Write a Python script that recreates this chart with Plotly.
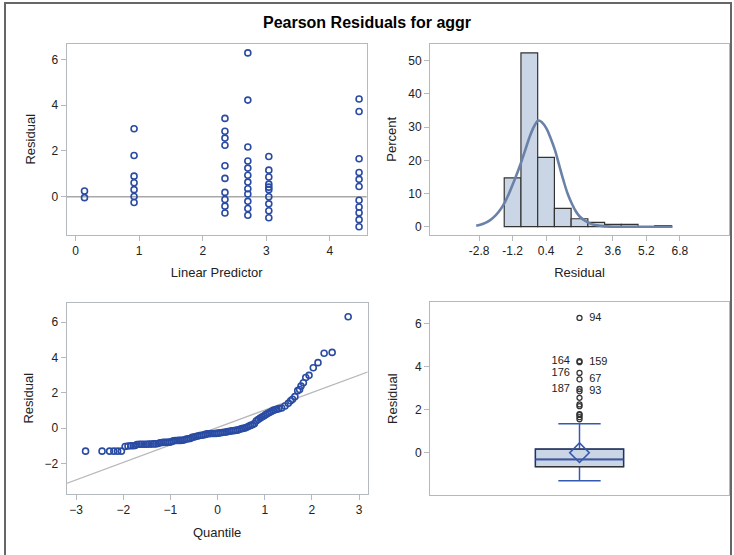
import plotly.graph_objects as go

# ---------------- data ----------------
# Panel 1: residual vs linear predictor
tl_pred = ([0.14] * 2 + [0.92] * 7 + [2.35] * 10 + [2.71] * 12 + [3.04] * 10 + [4.46] * 11)
tl_resid = [0.25, -0.04,
            2.97, 1.80, 0.90, 0.61, 0.31, 0.01, -0.25,
            3.42, 2.86, 2.56, 2.25, 1.35, 0.80, 0.19, -0.12, -0.41, -0.71,
            6.28, 4.22, 2.17, 1.56, 1.25, 0.94, 0.64, 0.35, 0.12, -0.20, -0.51, -0.81,
            1.76, 1.16, 0.86, 0.55, 0.42, 0.31, 0.00, -0.31, -0.61, -0.92,
            4.27, 3.72, 1.66, 1.06, 0.76, 0.45, -0.15, -0.45, -0.70, -1.00, -1.31]
tl_reference_y = 0

# Panel 2: histogram of residuals (percent) + normal curve
hist_centers = [-1.2, -0.4, 0.4, 1.2, 2.0, 2.8, 3.6, 4.4, 5.2, 6.0]
hist_percent = [14.7, 52.4, 20.9, 5.5, 2.4, 1.3, 0.7, 0.7, 0.0, 0.35]
hist_bin_width = 0.8
hist_ticks = [-2.8, -1.2, 0.4, 2, 3.6, 5.2, 6.8]
curve_x = [-2.94, -2.6, -2.27, -2.0, -1.8, -1.56, -1.32, -1.08, -0.84, -0.6, -0.36, -0.15,
           0.03, 0.2, 0.43, 0.63, 0.83, 1.03, 1.23, 1.43, 1.63, 1.83, 2.02, 2.26, 2.5,
           2.75, 2.98, 3.3, 3.61, 4.4, 5.2, 6.45]
curve_y = [0.3, 0.9, 2.0, 3.5, 5.0, 7.5, 10.8, 14.5, 18.5, 23.0, 27.5, 30.5,
           32.0, 31.5, 29.5, 26.5, 23.0, 18.5, 14.0, 10.0, 7.0, 4.6, 3.0, 1.8, 1.0,
           0.5, 0.3, 0.1, 0.0, 0.0, 0.0, 0.0]

# Panel 3: normal quantile plot
qq_quantile = [-2.80, -2.45, -2.29, -2.20, -2.12, -2.04, -1.96, -1.90, -1.84, -1.79, -1.75,
               -1.71, -1.66, -1.61, -1.56, -1.51, -1.46, -1.41, -1.36, -1.31, -1.26,
               -1.22, -1.18, -1.14, -1.10, -1.06, -1.02, -0.98, -0.94, -0.90, -0.86,
               -0.82, -0.78, -0.74, -0.70, -0.66, -0.62, -0.58, -0.54, -0.50, -0.46,
               -0.42, -0.38, -0.34, -0.30, -0.26, -0.22, -0.18, -0.14, -0.10, -0.06,
               -0.02, 0.02, 0.06, 0.10, 0.14, 0.18, 0.22, 0.26, 0.30, 0.34,
               0.38, 0.42, 0.46, 0.50, 0.54, 0.58, 0.62, 0.66, 0.70, 0.74,
               0.78, 0.82, 0.86, 0.90, 0.94, 0.98, 1.02, 1.06, 1.10, 1.14,
               1.18, 1.22, 1.26, 1.30, 1.36, 1.43, 1.50, 1.55, 1.59, 1.64,
               1.70, 1.74, 1.77, 1.82, 1.87, 1.94, 2.03, 2.13, 2.26, 2.43, 2.77]
qq_resid = [-1.31, -1.31, -1.31, -1.31, -1.31, -1.31, -1.05, -1.02, -1.00, -1.00, -0.99,
            -0.93, -0.92, -0.92, -0.92, -0.92, -0.91, -0.91, -0.90, -0.90, -0.88,
            -0.83, -0.82, -0.81, -0.81, -0.81, -0.80, -0.78, -0.73, -0.71, -0.71,
            -0.70, -0.70, -0.69, -0.66, -0.62, -0.61, -0.59, -0.53, -0.51, -0.48,
            -0.45, -0.42, -0.41, -0.39, -0.36, -0.33, -0.32, -0.31, -0.31, -0.31,
            -0.30, -0.29, -0.27, -0.25, -0.24, -0.22, -0.20, -0.18, -0.16, -0.15,
            -0.13, -0.12, -0.08, -0.04, -0.02, 0.00, 0.04, 0.10, 0.15, 0.19,
            0.25, 0.40, 0.48, 0.55, 0.62, 0.68, 0.76, 0.82, 0.88, 0.94,
            1.00, 1.04, 1.07, 1.10, 1.14, 1.25, 1.40, 1.55, 1.63, 1.78,
            2.12, 2.19, 2.38, 2.57, 2.87, 2.99, 3.42, 3.71, 4.24, 4.29, 6.31]
qq_ref_intercept = 0.03
qq_ref_slope = 0.99

# Panel 4: box plot statistics
box_q1 = -0.65
box_median = -0.31
box_q3 = 0.17
box_lower = -1.31
box_upper = 1.35
box_mean = 0.00
outlier_values = [6.28, 4.27, 4.22, 3.72, 3.42, 2.97, 2.86, 2.56, 2.25, 2.17, 1.80, 1.76, 1.66, 1.56]
outlier_labels = ["94", "164", "159", "176", "67", "187", "93", "", "", "", "", "", "", ""]
outlier_label_side = ["middle right", "middle left", "middle right", "middle left", "middle right",
                      "middle left", "middle right"] + ["middle right"] * 7

# ---------------- styling ----------------
W, H = 734, 555
FONT = "Liberation Sans, Arial, sans-serif"
BLUE = "#2a4ba3"
FRAME = "#b4b9bd"
TXT = "#222222"
FILL = "#cad5e5"


def px_x(a, b):
    return [a / W, b / W]


def px_y(top, bottom):
    return [1 - bottom / H, 1 - top / H]


def pad(label, side):
    if not label:
        return label
    return ("\u2002" + label) if side.endswith("right") else (label + "\u2002")


fig = go.Figure()

# Panel 1
fig.add_trace(go.Scatter(x=tl_pred, y=tl_resid, mode="markers", xaxis="x", yaxis="y",
                         marker=dict(symbol="circle-open", size=6, color=BLUE,
                                     line=dict(width=1.6, color=BLUE)),
                         showlegend=False))

# Panel 2
fig.add_trace(go.Bar(x=hist_centers, y=hist_percent, width=hist_bin_width, xaxis="x2", yaxis="y2",
                     marker=dict(color=FILL, line=dict(color="#333333", width=1.2)),
                     showlegend=False))
fig.add_trace(go.Scatter(x=curve_x, y=curve_y, mode="lines", xaxis="x2", yaxis="y2",
                         line=dict(color="#6a82a8", width=2.6, shape="spline"),
                         showlegend=False))

# Panel 3
qq_line_x = [-3.3, 3.3]
qq_line_y = [qq_ref_intercept + qq_ref_slope * v for v in qq_line_x]
fig.add_trace(go.Scatter(x=qq_line_x, y=qq_line_y, mode="lines", xaxis="x3", yaxis="y3",
                         line=dict(color="#b8b8b8", width=1.3), showlegend=False))
fig.add_trace(go.Scatter(x=qq_quantile, y=qq_resid, mode="markers", xaxis="x3", yaxis="y3",
                         marker=dict(symbol="circle-open", size=6, color=BLUE,
                                     line=dict(width=1.6, color=BLUE)),
                         showlegend=False))

# Panel 4
box_w = 0.59
fig.add_trace(go.Box(x=[0], q1=[box_q1], median=[box_median], q3=[box_q3],
                     lowerfence=[box_lower], upperfence=[box_upper],
                     xaxis="x4", yaxis="y4", width=box_w, whiskerwidth=0.48,
                     fillcolor=FILL, line=dict(color="#3558b0", width=1.5),
                     boxpoints=False, showlegend=False, hoverinfo="skip"))
fig.add_trace(go.Box(x=[0], q1=[box_q1], median=[box_median], q3=[box_q3],
                     lowerfence=[box_q1], upperfence=[box_q3],
                     xaxis="x4", yaxis="y4", width=box_w, whiskerwidth=0,
                     fillcolor="rgba(0,0,0,0)", line=dict(color="#333333", width=1.2),
                     boxpoints=False, showlegend=False, hoverinfo="skip"))
fig.add_trace(go.Box(x=[0], q1=[box_median], median=[box_median], q3=[box_median],
                     lowerfence=[box_median], upperfence=[box_median],
                     xaxis="x4", yaxis="y4", width=box_w, whiskerwidth=0,
                     fillcolor="rgba(0,0,0,0)", line=dict(color="#3558b0", width=1.5),
                     boxpoints=False, showlegend=False, hoverinfo="skip"))
fig.add_trace(go.Scatter(x=[0], y=[box_mean], mode="markers", xaxis="x4", yaxis="y4",
                         marker=dict(symbol="diamond-open", size=15, color="#3558b0",
                                     line=dict(width=1.6, color="#3558b0")),
                         showlegend=False))
fig.add_trace(go.Scatter(x=[0] * len(outlier_values), y=outlier_values, mode="markers+text",
                         xaxis="x4", yaxis="y4",
                         text=[pad(t, s) for t, s in zip(outlier_labels, outlier_label_side)],
                         textposition=outlier_label_side,
                         textfont=dict(family=FONT, size=11, color=TXT),
                         marker=dict(symbol="circle-open", size=5, color="#333333",
                                     line=dict(width=1.3, color="#333333")),
                         showlegend=False))

ax_common = dict(showgrid=False, zeroline=False, showline=True, mirror=True,
                 linecolor=FRAME, linewidth=1, ticks="outside", ticklen=5,
                 tickcolor=FRAME, tickfont=dict(family=FONT, size=12, color=TXT),
                 title_font=dict(family=FONT, size=13, color=TXT))

fig.update_layout(
    width=W, height=H, margin=dict(l=0, r=0, t=0, b=0),
    paper_bgcolor="white", plot_bgcolor="white", boxmode="overlay",
    xaxis=dict(ax_common, domain=px_x(66.7, 366.7), range=[-0.14, 4.58],
               tickvals=[0, 1, 2, 3, 4], title=dict(text="Linear Predictor", standoff=10),
               anchor="y"),
    yaxis=dict(ax_common, domain=px_y(43.5, 235), range=[-1.67, 6.69],
               tickvals=[0, 2, 4, 6], title=dict(text="Residual", standoff=13), anchor="x"),
    xaxis2=dict(ax_common, domain=px_x(430, 729), range=[-5.15, 9.15],
                tickvals=hist_ticks, ticktext=[str(t) for t in hist_ticks],
                title=dict(text="Residual", standoff=10), anchor="y2"),
    yaxis2=dict(ax_common, domain=px_y(43.5, 235), range=[-2.5, 55.2],
                tickvals=[0, 10, 20, 30, 40, 50], title=dict(text="Percent", standoff=8),
                anchor="x2"),
    xaxis3=dict(ax_common, domain=px_x(66.7, 367.5), range=[-3.2, 3.18],
                tickvals=[-3, -2, -1, 0, 1, 2, 3], title=dict(text="Quantile", standoff=11),
                anchor="y3"),
    yaxis3=dict(ax_common, domain=px_y(302.5, 494), range=[-3.74, 7.12],
                tickvals=[-2, 0, 2, 4, 6], title=dict(text="Residual", standoff=8),
                anchor="x3"),
    xaxis4=dict(ax_common, domain=px_x(430, 729), range=[-1, 1], ticks="",
                showticklabels=False, anchor="y4"),
    yaxis4=dict(ax_common, domain=px_y(302.3, 495), range=[-1.97, 7.01],
                tickvals=[0, 2, 4, 6], title=dict(text="Residual", standoff=14), anchor="x4"),
    annotations=[dict(text="<b>Pearson Residuals for aggr</b>", x=0.5, y=1 - 22 / H,
                      xref="paper", yref="paper", showarrow=False, xanchor="center",
                      yanchor="middle", font=dict(family=FONT, size=16, color="#000000"))],
    shapes=[
        dict(type="line", xref="x domain", yref="y", x0=0, x1=1,
             y0=tl_reference_y, y1=tl_reference_y, line=dict(color="#a8a8a8", width=1.3),
             layer="below"),
        dict(type="rect", xref="paper", yref="paper", x0=5 / W, x1=731 / W,
             y0=-0.05, y1=1 - 3 / H, line=dict(color="#666666", width=2)),
    ],
)

fig.write_html("out.html", config={"displayModeBar": False, "staticPlot": True},
               post_script="document.body.style.margin='0';document.body.style.overflow='hidden';")
